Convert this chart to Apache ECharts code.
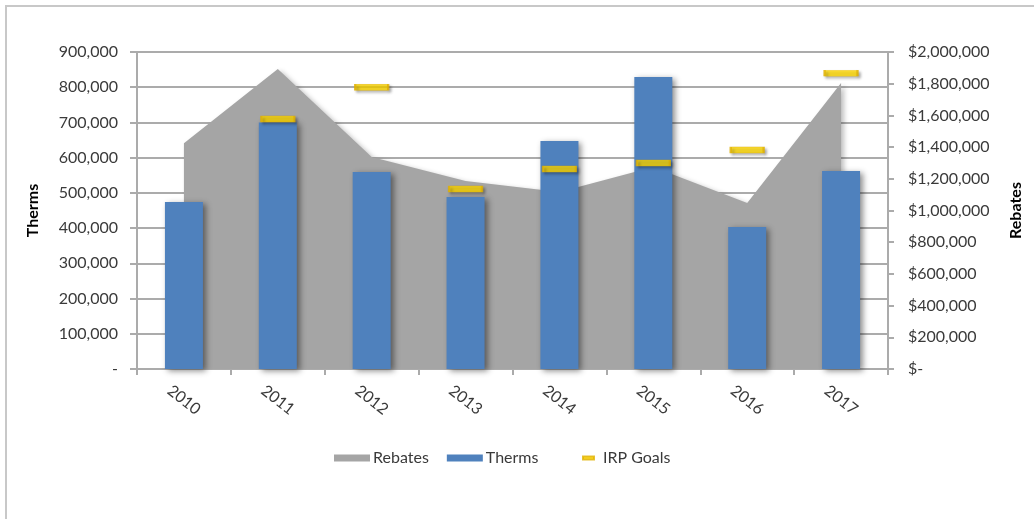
<!DOCTYPE html>
<html>
<head>
<meta charset="utf-8">
<script src="https://cdn.jsdelivr.net/npm/echarts@6/dist/echarts.min.js"></script>
<style>
html,body{margin:0;padding:0;background:#fff;}
#chart{width:1034px;height:519px;}
</style>
</head>
<body>
<div id="chart"></div>
<script>
const years = ['2010','2011','2012','2013','2014','2015','2016','2017'];
const therms = [474000, 700000, 559000, 488000, 647000, 829000, 403000, 562000];
const rebates = [1425000, 1893000, 1338000, 1186000, 1117000, 1274000, 1047000, 1804000];
const irpGoals = [null, 710000, 800000, 511000, 568000, 585000, 622000, 840000];

const FONT = 'Lato';
const TXT = '#3a3a3a';
const GRID = '#ababab';

function fmtNum(v){ return v === 0 ? '-' : v.toLocaleString('en-US'); }
function fmtUsd(v){ return v === 0 ? '$-' : '$' + v.toLocaleString('en-US'); }

const chart = echarts.init(document.getElementById('chart'), null, {renderer:'canvas'});
chart.setOption({
  animation: false,
  backgroundColor: '#fff',
  textStyle: {fontFamily: FONT},
  graphic: [{
    type: 'polyline',
    shape: {points: [[6,519],[6,6],[1034,6]]},
    style: {stroke: '#c8c8c8', lineWidth: 2, fill: null}
  }],
  grid: {left: 137, right: 146, top: 52, bottom: 150, containLabel: false},
  legend: [{
    data: [{name:'Rebates', icon:'rect'}, {name:'Therms', icon:'rect'}],
    left: 329, top: 445,
    itemWidth: 36, itemHeight: 7, itemGap: 18,
    textStyle: {fontFamily: FONT, fontSize: 16, color: TXT, padding:[0,0,0,-2]}
  },{
    data: [{name:'IRP Goals', icon:'rect'}],
    left: 577, top: 445,
    itemWidth: 11, itemHeight: 3,
    textStyle: {fontFamily: FONT, fontSize: 16, color: TXT, padding:[0,0,0,4]}
  }],
  xAxis: {
    type: 'category',
    data: years,
    boundaryGap: true,
    axisLine: {lineStyle: {color: GRID, width: 2}},
    axisTick: {show: true, length: 6, alignWithLabel: false, lineStyle: {color: GRID, width: 2}},
    axisLabel: {rotate: -38, align: 'center', verticalAlign: 'middle', margin: 31,
      fontFamily: FONT, fontSize: 16, color: TXT}
  },
  yAxis: [{
    type: 'value', min: 0, max: 900000, interval: 100000,
    position: 'left',
    name: 'Therms', nameLocation: 'middle', nameRotate: 90, nameGap: 96,
    nameTextStyle: {fontFamily: FONT, fontSize: 16, fontWeight: 'bold', color: '#000'},
    axisLine: {show: true, lineStyle: {color: GRID, width: 2}},
    axisTick: {show: true, length: 7, lineStyle: {color: GRID, width: 2}},
    axisLabel: {formatter: fmtNum, margin: 19, fontFamily: FONT, fontSize: 16, color: TXT},
    splitLine: {show: true, lineStyle: {color: GRID, width: 2}}
  },{
    type: 'value', min: 0, max: 2000000, interval: 200000,
    position: 'right',
    name: 'Rebates', nameLocation: 'middle', nameRotate: 90, nameGap: 120,
    nameTextStyle: {fontFamily: FONT, fontSize: 16, fontWeight: 'bold', color: '#000'},
    axisLine: {show: true, lineStyle: {color: GRID, width: 2}},
    axisTick: {show: true, length: 6, lineStyle: {color: GRID, width: 2}},
    axisLabel: {formatter: fmtUsd, margin: 20, fontFamily: FONT, fontSize: 16, color: TXT},
    splitLine: {show: false}
  }],
  series: [{
    name: 'Rebates',
    type: 'line',
    yAxisIndex: 1,
    data: rebates,
    symbol: 'none',
    z: 1,
    itemStyle: {color: '#a5a5a5'},
    lineStyle: {width: 0, color: '#a5a5a5'},
    areaStyle: {color: '#a5a5a5', opacity: 1, shadowColor: 'rgba(0,0,0,0.25)', shadowBlur: 5, shadowOffsetX: 3, shadowOffsetY: 2}
  },{
    name: 'Therms',
    type: 'bar',
    yAxisIndex: 0,
    data: therms,
    barWidth: 38,
    z: 2,
    itemStyle: {color: '#4f81bd', shadowColor: 'rgba(0,0,0,0.45)', shadowBlur: 6, shadowOffsetX: 3, shadowOffsetY: 2}
  },{
    name: 'IRP Goals',
    type: 'scatter',
    yAxisIndex: 0,
    data: irpGoals,
    symbol: 'rect',
    symbolSize: [33, 6],
    z: 3,
    itemStyle: {color: '#ffd800', borderColor: '#e0b000', borderWidth: 1,
      shadowColor: 'rgba(0,0,0,0.35)', shadowBlur: 3, shadowOffsetX: 2, shadowOffsetY: 2}
  }]
});
</script>
</body>
</html>
